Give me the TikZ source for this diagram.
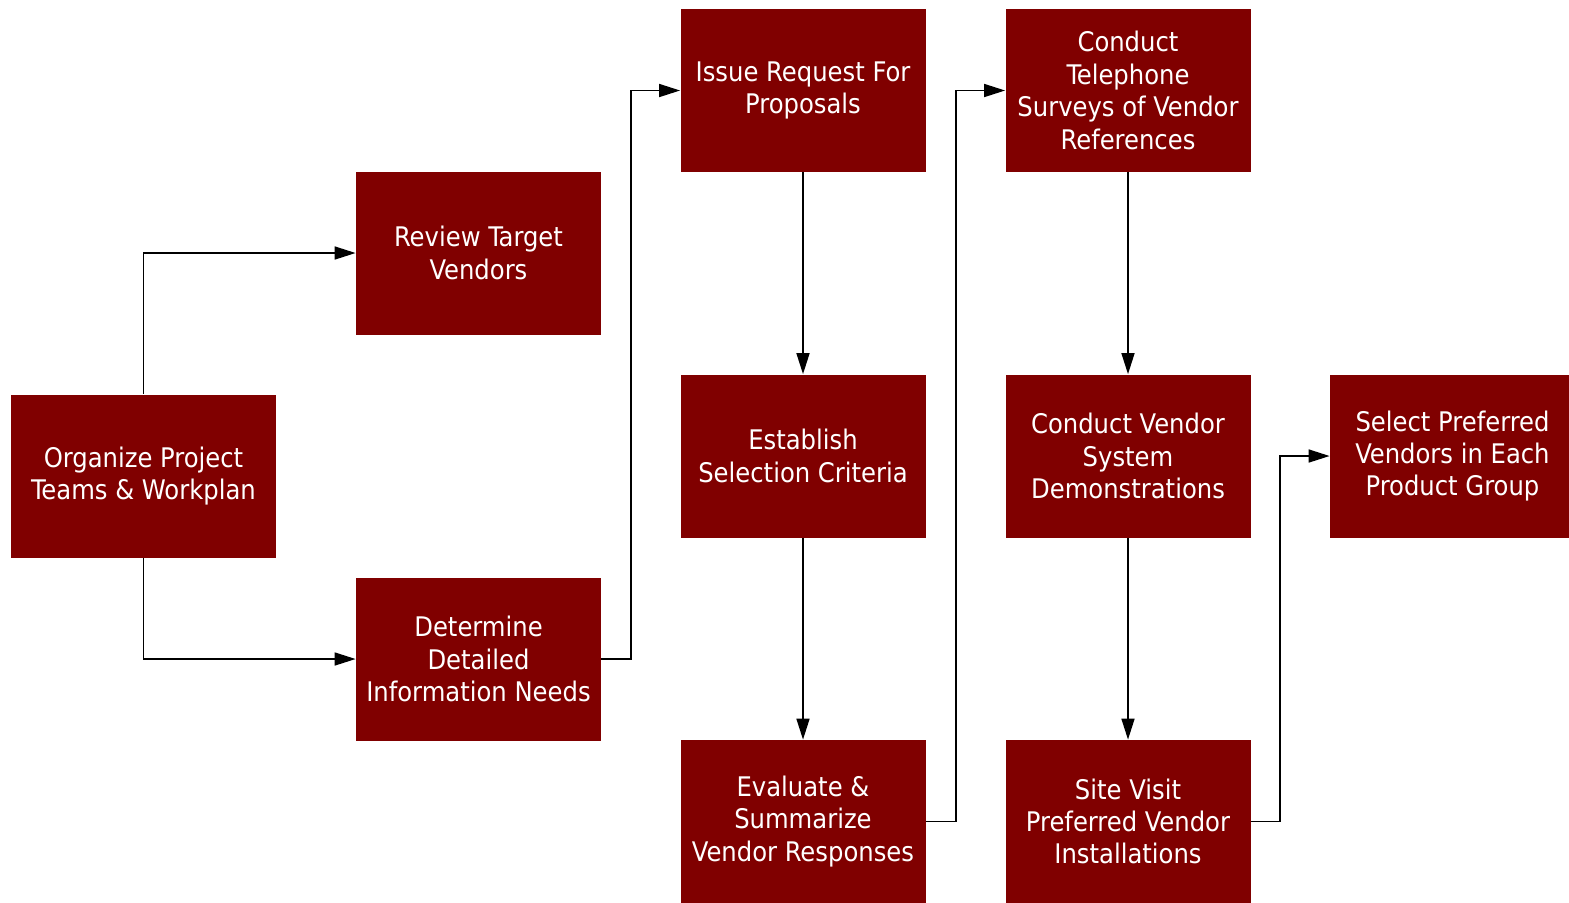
\documentclass[tikz,border=0pt]{standalone}
\usepackage{fontspec}
\setmainfont{DejaVu Sans Condensed}
\usetikzlibrary{arrows.meta}
\definecolor{boxred}{HTML}{800000}
\begin{document}
\begin{tikzpicture}[x=0.5pt,y=-0.5pt,
  stepbox/.style={fill=boxred,draw=none,text=white,align=center,
    minimum width=122.5pt,minimum height=81.5pt,inner sep=0pt,
    font=\fontsize{13.5pt}{16.2pt}\selectfont},
  conn/.style={draw=black,line width=0.8pt,-{Triangle[length=10.5pt,width=6.5pt]}}]
\useasboundingbox (0,0) rectangle (1569,902);
\node[stepbox,minimum width=132.5pt] (org) at (143.5,476) {Organize Project\\Teams \& Workplan};
\node[stepbox] (rev) at (478.5,253) {Review Target\\Vendors};
\node[stepbox] (det) at (478.5,659) {Determine\\Detailed\\Information Needs};
\node[stepbox] (iss) at (803,90.5) {Issue Request For\\Proposals};
\node[stepbox] (est) at (803,456) {Establish\\Selection Criteria};
\node[stepbox] (eva) at (803,821.5) {Evaluate \&\\Summarize\\Vendor Responses};
\node[stepbox] (tel) at (1128,90.5) {Conduct\\Telephone\\Surveys of Vendor\\References};
\node[stepbox] (dem) at (1128,456) {Conduct Vendor\\System\\Demonstrations};
\node[stepbox] (sit) at (1128,821.5) {Site Visit\\Preferred Vendor\\Installations};
\node[stepbox] (sel) at (1452.5,456) {Select Preferred\\Vendors in Each\\Product Group};
\draw[conn] (org.north) |- (rev.west);
\draw[conn] (org.south) |- (det.west);
\draw[conn] (det.east) -- (631,659) |- (iss.west);
\draw[conn] (iss) -- (est);
\draw[conn] (est) -- (eva);
\draw[conn] (eva.east) -- (956,821.5) |- (tel.west);
\draw[conn] (tel) -- (dem);
\draw[conn] (dem) -- (sit);
\draw[conn] (sit.east) -- (1280,821.5) |- (sel.west);
\end{tikzpicture}
\end{document}
